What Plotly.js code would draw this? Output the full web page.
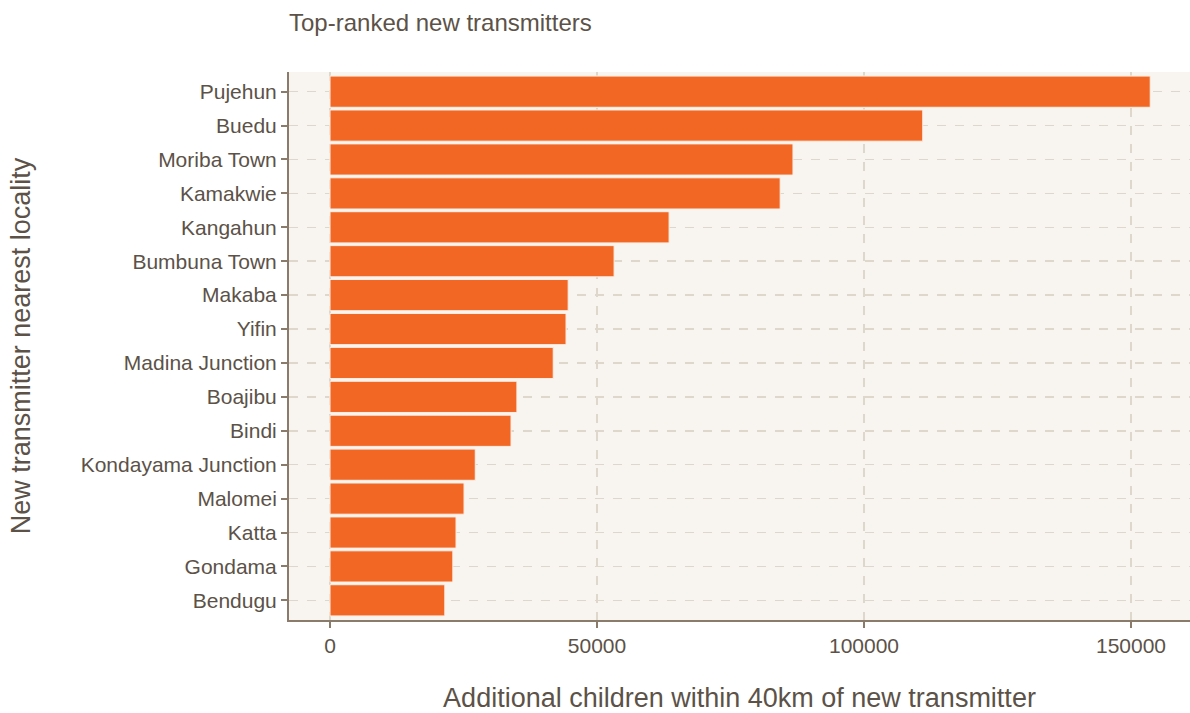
<!DOCTYPE html>
<html><head><meta charset="utf-8">
<script src="https://cdn.plot.ly/plotly-3.0.1.min.js"></script>
<style>html,body{margin:0;padding:0;background:#fff}</style>
</head><body><div id="chart" style="width:1190px;height:713px"></div>
<script>
const localities = ["Pujehun","Buedu","Moriba Town","Kamakwie","Kangahun","Bumbuna Town","Makaba","Yifin","Madina Junction","Boajibu","Bindi","Kondayama Junction","Malomei","Katta","Gondama","Bendugu"];
const children = [153600,111000,86700,84300,63500,53200,44600,44200,41800,35000,33900,27200,25100,23600,23000,21500];
const xTicks = [0,50000,100000,150000];

const txt = "#5c5248";
const trace = {
  type: "bar", orientation: "h",
  x: children.slice().reverse(), y: localities.slice().reverse(),
  marker: {color: "#f26724", line: {color: "#fbefe6", width: 1}},
  width: 0.92, hoverinfo: "x+y"
};
const layout = {
  width: 1190, height: 713,
  margin: {l: 289, r: 0, t: 72, b: 93},
  paper_bgcolor: "#ffffff", plot_bgcolor: "#f8f5f0",
  font: {family: "Liberation Sans, Arial, sans-serif", color: txt, size: 21},
  title: {text: "Top-ranked new transmitters", x: 289/1190, xanchor: "left", y: 0.969, yanchor: "middle", font: {size: 24, color: txt}},
  showlegend: false,
  xaxis: {
    range: [-7680, 161050], tickvals: xTicks, ticktext: xTicks.map(String),
    showgrid: true, gridcolor: "#ddd8cb", griddash: "dash", gridwidth: 1.5,
    zeroline: false, showline: true, linecolor: "#8b7b6b", linewidth: 2,
    ticks: "outside", ticklen: 6, tickcolor: "#8b7b6b", tickwidth: 2,
    tickfont: {size: 21, color: txt},
    title: {text: "Additional children within 40km of new transmitter", font: {size: 27, color: txt}, standoff: 32}
  },
  yaxis: {
    type: "category", range: [-0.58, 15.58],
    showgrid: true, gridcolor: "#ddd8cb", griddash: "dash", gridwidth: 1.5,
    zeroline: false, showline: true, linecolor: "#8b7b6b", linewidth: 2,
    ticks: "outside", ticklen: 6, tickcolor: "#8b7b6b", tickwidth: 2,
    tickfont: {size: 21, color: txt},
    title: {text: "New transmitter nearest locality", font: {size: 27, color: txt}, standoff: 42}
  },
  bargap: 0.08
};
Plotly.newPlot("chart", [trace], layout, {displayModeBar: false, staticPlot: true});
</script></body></html>
